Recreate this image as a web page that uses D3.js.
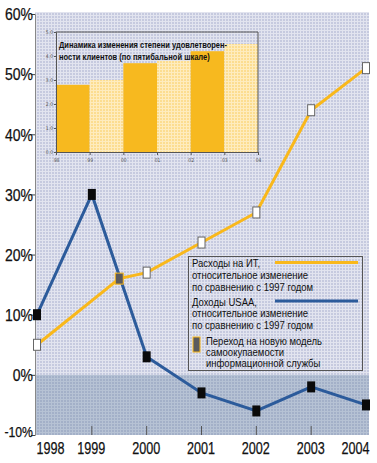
<!DOCTYPE html>
<html>
<head>
<meta charset="utf-8">
<script src="https://cdn.jsdelivr.net/npm/d3@7"></script>
<style>
  body { margin: 0; background: #fff; }
  svg { display: block; }
  .big { font-family: "Liberation Sans", Arial, sans-serif; fill: #111; stroke: #111; stroke-width: 0.25px; }
  .leg { font-family: "Liberation Sans", Arial, sans-serif; font-size: 11.5px; fill: #111; }
  .inset-title { font-family: "Liberation Sans", Arial, sans-serif; font-size: 9.5px; font-weight: bold; fill: #111; }
  .tiny { font-family: "DejaVu Sans Condensed", sans-serif; font-size: 5px; fill: #555; }
</style>
</head>
<body>
<div id="chart"></div>
<script>
// data
let years = [1998, 1999, 2000, 2001, 2002, 2003, 2004];
let itSpending = [5, null, 17, 22, 27, 44, 51];      // % vs 1997
let usaaIncome = [10, 30, 3, -3, -6, -2, -5];         // % vs 1997
let transition = {year: 1999.5, value: 16};          // move to self-financing model
let yTicks = [60, 50, 40, 30, 20, 10, 0, -10];

let insetLabels = ["98", "99", "00", "01", "02", "03", "04"];
let satisfaction = [2.8, 3.0, 3.7, 3.8, 4.2, 4.5];
let insetTicks = [0, 1, 2, 3, 4, 5];

let W = 377, H = 463;

let svg = d3.select("#chart").append("svg")
    .attr("width", W)
    .attr("height", H);

let defs = svg.append("defs");

// squeeze a text selection horizontally (condensed face look)
function condense(sel, f) {
    sel.each(function () {
        let w = this.getComputedTextLength();
        d3.select(this).attr("textLength", w * f).attr("lengthAdjust", "spacingAndGlyphs");
    });
}
function widthOf(cls, size, str) {
    let t = svg.append("text").attr("class", cls).style("font-size", size).text(str);
    let w = t.node().getComputedTextLength();
    t.remove();
    return w;
}

// dotted screen look of the print
function screen(id, base, dot) {
    let p = defs.append("pattern")
        .attr("id", id)
        .attr("width", 3).attr("height", 3)
        .attr("patternUnits", "userSpaceOnUse");
    p.append("rect").attr("width", 3).attr("height", 3).attr("fill", base);
    p.append("rect").attr("width", 3).attr("height", 1).attr("fill", dot);
    p.append("rect").attr("width", 1).attr("height", 3).attr("fill", dot);
}
screen("bgTop", "#c6cadf", "#e2e4ef");
screen("bgBot", "#a3b0c8", "#b6c2d4");
screen("barLight", "#fcdd90", "#feecbe");

// scales
let x = d3.scaleLinear().domain([1998, 2004]).range([37, 366]);
let y = d3.scaleLinear().domain([-10, 60]).range([435, 14]);

let plotL = 35, plotR = 369, plotT = 12, plotB = 435;

// background
svg.append("rect")
    .attr("x", plotL).attr("y", plotT)
    .attr("width", plotR - plotL).attr("height", y(0) - plotT)
    .attr("fill", "url(#bgTop)");
svg.append("rect")
    .attr("x", plotL).attr("y", y(0))
    .attr("width", plotR - plotL).attr("height", plotB - y(0))
    .attr("fill", "url(#bgBot)");

// y axis
let yAxis = d3.axisLeft(y).tickValues(yTicks).tickSize(4).tickFormat(d => d + "%");
let yAxisGroup = svg.append("g")
    .attr("transform", "translate(" + plotL + ",0)")
    .call(yAxis);
yAxisGroup.select(".domain").attr("stroke", "#888");
yAxisGroup.selectAll(".tick line").attr("stroke", "#444");
yAxisGroup.selectAll(".tick text")
    .attr("class", "big")
    .attr("x", -2)
    .style("font-size", d => d === -10 ? "14px" : "16px")
    .attr("dy", d => d === -10 ? "0.1em" : "0.36em");
condense(yAxisGroup.selectAll(".tick text"), 28 / widthOf("big", "16px", "60%"));

// x axis
let xAxis = d3.axisBottom(x).tickValues(years).tickSize(0).tickFormat(d3.format("d"));
let xAxisGroup = svg.append("g")
    .attr("transform", "translate(0," + plotB + ")")
    .call(xAxis);
xAxisGroup.select(".domain").remove();
xAxisGroup.selectAll(".tick text")
    .attr("class", "big")
    .style("font-size", "16px")
    .attr("dy", 0)
    .attr("y", 19)
    .attr("text-anchor", "middle")
    .attr("x", (d, i) => i === 0 ? 13 : i === years.length - 1 ? -11 : -1);
condense(xAxisGroup.selectAll(".tick text"), 28 / widthOf("big", "16px", "2000"));

svg.selectAll(".xmark")
    .data(years.slice(1, 6))
    .enter().append("line")
    .attr("x1", d => x(d)).attr("x2", d => x(d))
    .attr("y1", plotB - 9).attr("y2", plotB)
    .attr("stroke", "#555");

// ---- INSET BAR CHART ----
let xi = d3.scaleLinear().domain([0, 6]).range([56, 258]);
let yi = d3.scaleLinear().domain([0, 5]).range([152, 32]);

svg.selectAll(".ibar")
    .data(satisfaction)
    .enter().append("rect")
    .attr("class", "ibar")
    .attr("x", (d, i) => xi(i))
    .attr("y", d => yi(d))
    .attr("width", xi(1) - xi(0))
    .attr("height", d => yi(0) - yi(d))
    .attr("fill", (d, i) => i % 2 === 0 ? "#f7b91f" : "url(#barLight)");

// inset frame (top and right)
svg.append("path")
    .attr("d", "M" + xi(0) + "," + yi(5) + "H" + xi(6) + "V" + yi(0))
    .attr("fill", "none").attr("stroke", "#555").attr("stroke-width", 1);

let yiAxis = d3.axisLeft(yi).tickValues(insetTicks).tickSize(2);
let yiGroup = svg.append("g")
    .attr("transform", "translate(" + xi(0) + ",0)")
    .call(yiAxis);
yiGroup.select(".domain").attr("stroke", "#555");
yiGroup.selectAll(".tick line").attr("stroke", "#555");
yiGroup.selectAll(".tick text").attr("class", "tiny").attr("x", -3);

let xiAxis = d3.axisBottom(xi).tickValues(d3.range(7)).tickSize(3)
    .tickFormat(i => insetLabels[i]);
let xiGroup = svg.append("g")
    .attr("transform", "translate(0," + yi(0) + ")")
    .call(xiAxis);
xiGroup.select(".domain").attr("stroke", "#555");
xiGroup.selectAll(".tick line").attr("stroke", "#555");
xiGroup.selectAll(".tick text").attr("class", "tiny").attr("y", 6);

let titleLines = ["Динамика изменения степени удовлетворен-", "ности клиентов (по пятибальной шкале)"];
let titleF = 168 / widthOf("inset-title", "9.5px", titleLines[0]);
let title = svg.selectAll(".inset-title")
    .data(titleLines)
    .enter().append("text")
    .attr("class", "inset-title")
    .attr("x", 59)
    .attr("y", (d, i) => 48 + i * 12)
    .text(d => d);
condense(title, titleF);

// ---- LINES ----
let itPoints = years.map((yr, i) => ({year: yr, value: itSpending[i]}))
    .filter(d => d.value !== null);
let itLinePoints = itPoints.slice(0, 1).concat([transition], itPoints.slice(1));
let usaaPoints = years.map((yr, i) => ({year: yr, value: usaaIncome[i]}));

let line = d3.line().x(d => x(d.year)).y(d => y(d.value));

svg.append("path")
    .datum(itLinePoints)
    .attr("d", line)
    .attr("fill", "none")
    .attr("stroke", "#f9b81b")
    .attr("stroke-width", 3);

svg.append("path")
    .datum(usaaPoints)
    .attr("d", line)
    .attr("fill", "none")
    .attr("stroke", "#2c5b9b")
    .attr("stroke-width", 3);

// markers
svg.selectAll(".itmark")
    .data(itPoints)
    .enter().append("rect")
    .attr("x", d => x(d.year) - 3.5)
    .attr("y", d => y(d.value) - 5.5)
    .attr("width", 7).attr("height", 11)
    .attr("fill", "#fff")
    .attr("stroke", "#666").attr("stroke-width", 1);

svg.selectAll(".usmark")
    .data(usaaPoints)
    .enter().append("rect")
    .attr("x", d => x(d.year) - 4)
    .attr("y", d => y(d.value) - 5.5)
    .attr("width", 8).attr("height", 11)
    .attr("fill", "#0a0a0a");

svg.append("rect")
    .attr("x", x(transition.year) - 4)
    .attr("y", y(transition.value) - 5.5)
    .attr("width", 8).attr("height", 11)
    .attr("fill", "#5a5a5e")
    .attr("stroke", "#f9b81b").attr("stroke-width", 1);

// ---- LEGEND ----
let legend = svg.append("g");
legend.append("rect")
    .attr("x", 188.5).attr("y", 256.5)
    .attr("width", 174).attr("height", 114)
    .attr("fill", "url(#bgTop)")
    .attr("stroke", "#555");

let legendText = [
    {lines: ["Расходы на ИТ,", "относительное изменение", "по сравнению с 1997 годом"], y: 266.5, step: 12, x: 192},
    {lines: ["Доходы USAA,", "относительное изменение", "по сравнению с 1997 годом"], y: 305.5, step: 11.8, x: 192},
    {lines: ["Переход на новую модель", "самоокупаемости", "информационной службы"], y: 345, step: 10.8, x: 206}
];
let legF = 116 / widthOf("leg", "11.5px", "относительное изменение");
legendText.forEach(g => {
    g.lines.forEach((t, i) => {
        legend.append("text").attr("class", "leg")
            .attr("x", g.x).attr("y", g.y + i * g.step)
            .text(t);
    });
});
condense(legend.selectAll("text"), legF);

legend.append("line")
    .attr("x1", 275).attr("x2", 358).attr("y1", 262.5).attr("y2", 262.5)
    .attr("stroke", "#f9b81b").attr("stroke-width", 3);
legend.append("line")
    .attr("x1", 275).attr("x2", 358).attr("y1", 301).attr("y2", 301)
    .attr("stroke", "#2c5b9b").attr("stroke-width", 3);
legend.append("rect")
    .attr("x", 193).attr("y", 337)
    .attr("width", 7).attr("height", 15)
    .attr("fill", "#5a5a5e")
    .attr("stroke", "#f9b81b").attr("stroke-width", 1);
</script>
</body>
</html>
